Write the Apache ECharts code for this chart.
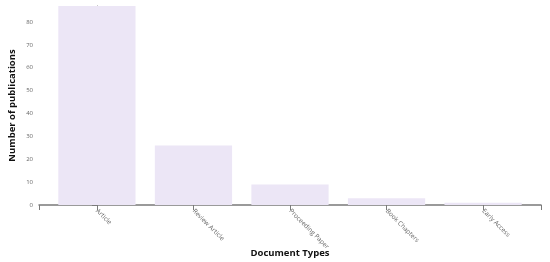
<!DOCTYPE html>
<html>
<head>
<meta charset="utf-8">
<script src="https://cdn.jsdelivr.net/npm/echarts@6/dist/echarts.min.js"></script>
<style>
  html, body { margin: 0; padding: 0; background: #fff; }
  #chart { width: 550px; height: 262px; }
</style>
</head>
<body>
<div id="chart"></div>
<script>
// document types and counts
const docTypes = ["Article", "Review Article", "Proceeding Paper", "Book Chapters", "Early Access"];
const pubCounts = [87, 26, 9, 3, 1];
const yTicks = [0, 10, 20, 30, 40, 50, 60, 70, 80];

const axisColor = "#7a7a7a";
const barColor = "#ece6f6";
const yMax = Math.max(...pubCounts);

// band scale like d3 (padding 0.2): positions 0..n-1, outer edges at -0.6 / n-0.4
const xMin = -0.6;
const xMax = docTypes.length - 0.4;
const xIdx = docTypes.map((d, i) => i);

const chart = echarts.init(document.getElementById("chart"));

const option = {
  animation: false,
  textStyle: { fontFamily: "Open Sans, DejaVu Sans, sans-serif" },
  grid: { left: 39, right: 9, top: 6, bottom: 57, containLabel: false, outerBoundsMode: "none" },
  xAxis: {
    type: "value",
    min: xMin,
    max: xMax,
    splitLine: { show: false },
    axisLine: { show: true, lineStyle: { color: axisColor, width: 1.5 } },
    axisTick: {
      show: true,
      length: 5,
      customValues: [xMin].concat(xIdx, [xMax]),
      lineStyle: { color: axisColor }
    },
    axisLabel: {
      customValues: xIdx,
      rotate: -45,
      fontSize: 6.5,
      color: "#666",
      margin: 5,
      formatter: (v) => docTypes[Math.round(v)] || ""
    },
    name: "Document Types",
    nameLocation: "middle",
    nameGap: 43,
    nameMoveOverlap: false,
    nameTextStyle: { fontSize: 9.5, fontWeight: "bold", color: "#111" }
  },
  yAxis: {
    type: "value",
    min: 0,
    max: yMax,
    splitLine: { show: false },
    axisLine: { show: true, lineStyle: { color: axisColor, width: 1 } },
    axisTick: {
      show: true,
      length: 5,
      customValues: yTicks.concat([yMax]),
      lineStyle: { color: axisColor }
    },
    axisLabel: {
      customValues: yTicks,
      fontSize: 6,
      color: "#666",
      margin: 6
    },
    name: "Number of publications",
    nameLocation: "middle",
    nameGap: 22,
    nameMoveOverlap: false,
    nameTextStyle: { fontSize: 9.5, fontWeight: "bold", color: "#111" }
  },
  series: [
    {
      type: "bar",
      data: xIdx.map((i) => [i, pubCounts[i]]),
      barWidth: ((541 - 39) / (docTypes.length + 0.2)) * 0.8,
      itemStyle: { color: barColor, borderWidth: 0 }
    }
  ]
};
chart.setOption(option);
</script>
</body>
</html>
